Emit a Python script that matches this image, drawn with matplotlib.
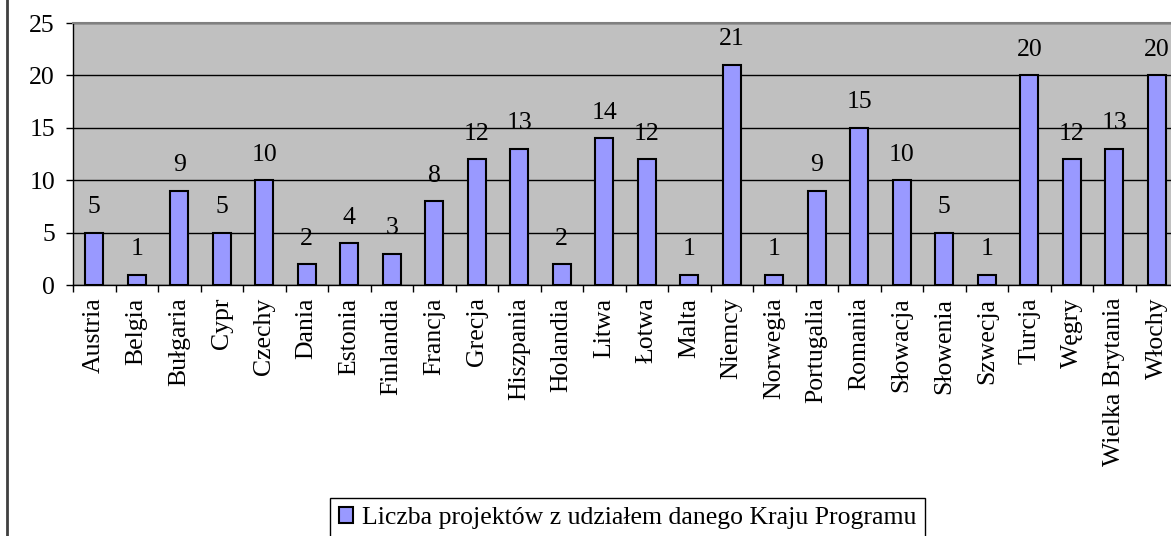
import matplotlib.pyplot as plt
from matplotlib.lines import Line2D
import numpy as np

# dane wykresu
kraje = ['Austria', 'Belgia', 'Bułgaria', 'Cypr', 'Czechy', 'Dania', 'Estonia',
         'Finlandia', 'Francja', 'Grecja', 'Hiszpania', 'Holandia', 'Litwa',
         'Łotwa', 'Malta', 'Niemcy', 'Norwegia', 'Portugalia', 'Romania',
         'Słowacja', 'Słowenia', 'Szwecja', 'Turcja', 'Węgry',
         'Wielka Brytania', 'Włochy']
projekty = [5, 1, 9, 5, 10, 2, 4, 3, 8, 12, 13, 2, 14, 12, 1, 21, 1, 9, 15,
            10, 5, 1, 20, 12, 13, 20]
seria = 'Liczba projektów z udziałem danego Kraju Programu'
y_ticks = [0, 5, 10, 15, 20, 25]

plt.rcParams['font.family'] = ['Liberation Serif', 'DejaVu Serif']
plt.rcParams['font.size'] = 18.5

W, H = 1171, 536
fig = plt.figure(figsize=(W / 100, H / 100), dpi=100)
left, right, top, bottom = 73, 1178, 23, 285
ax = fig.add_axes([left / W, 1 - bottom / H, (right - left) / W, (bottom - top) / H])
ax.set_facecolor('#C0C0C0')

x = np.arange(len(kraje))
bars = ax.bar(x, projekty, width=0.43, color='#9999FF', edgecolor='black',
              linewidth=1.5, zorder=3, label=seria)
for xi, v in zip(x, projekty):
    ax.annotate(str(v), (xi, v), xytext=(0, 14), textcoords='offset points',
                ha='center', va='baseline')

ax.set_xlim(-0.5, len(kraje) - 0.5)
ax.set_ylim(0, 25)
ax.set_yticks(y_ticks)
ax.yaxis.grid(True, color='black', linewidth=1, zorder=1)
ax.set_axisbelow(True)

ax.set_xticks(x)
ax.set_xticklabels(kraje, rotation=90, va='top', ha='center')
ax.set_xticks(np.arange(len(kraje) + 1) - 0.5, minor=True)
ax.tick_params(axis='x', which='major', length=0, pad=9)
ax.tick_params(axis='x', which='minor', length=5, width=1, direction='out')
ax.tick_params(axis='y', length=5, width=1, direction='out', pad=8)

ax.spines['top'].set_color('#808080')
ax.spines['top'].set_linewidth(1.5)
ax.spines['right'].set_visible(False)
ax.spines['left'].set_linewidth(1)
ax.spines['bottom'].set_linewidth(1)

# ramka wykresu (widoczna tylko lewa krawedz)
fig.add_artist(Line2D([7 / W, 7 / W], [0, 1], color='#404040', linewidth=2,
                      transform=fig.transFigure))

leg = fig.legend(handles=[bars], labels=[seria], loc='upper left',
                 bbox_to_anchor=(330 / W, 1 - 498 / H), frameon=True,
                 fancybox=False, framealpha=1, edgecolor='black',
                 handlelength=0.55, handleheight=0.55, handletextpad=0.35,
                 borderpad=0.35, borderaxespad=0)
leg.get_frame().set_linewidth(1)

fig.savefig('out.png', dpi=100)
